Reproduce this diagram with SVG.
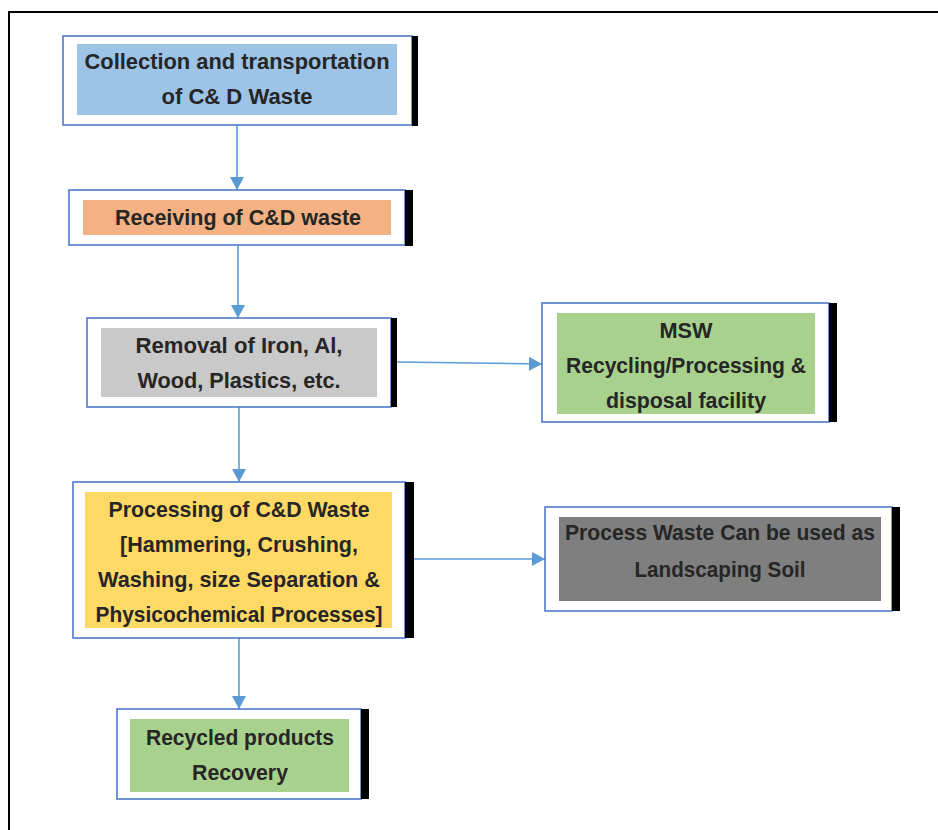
<svg xmlns="http://www.w3.org/2000/svg" width="938" height="830" viewBox="0 0 938 830">
<style>
.outer{fill:#ffffff;stroke:#4472C4;stroke-width:1.5}
.bar{fill:#000000}
.t{font-family:"Liberation Sans",Arial,sans-serif;font-weight:bold;font-size:22px;fill:#262626;text-anchor:middle}
.conn{stroke:#5B9BD5;stroke-width:1.6;fill:none;marker-end:url(#ah)}
</style>
<defs>
<marker id="ah" markerUnits="userSpaceOnUse" markerWidth="14" markerHeight="14" refX="13" refY="7" orient="auto">
<path d="M0,0 L13,7 L0,14 z" fill="#5B9BD5"/>
</marker>
</defs>
<rect x="0" y="0" width="938" height="830" fill="#ffffff"/>
<path d="M9,830 L9,12 L938,12" fill="none" stroke="#000" stroke-width="2"/>

<g id="connectors">
<line class="conn" x1="237" y1="125" x2="237" y2="190"/>
<line class="conn" x1="238" y1="246" x2="238" y2="318"/>
<line class="conn" x1="397" y1="362" x2="542" y2="364"/>
<line class="conn" x1="414" y1="559" x2="545" y2="559"/>
<line class="conn" x1="239" y1="407" x2="239" y2="482"/>
<line class="conn" x1="239" y1="638" x2="239" y2="709"/>
</g>

<g id="n1">
<rect class="outer" x="63" y="36" width="349" height="89"/>
<rect class="bar" x="412" y="36" width="6" height="90"/>
<rect x="77" y="44" width="320" height="71" fill="#9DC3E6"/>
<text class="t" x="237" y="69" textLength="305" lengthAdjust="spacingAndGlyphs">Collection and transportation</text>
<text class="t" x="237" y="104" textLength="151" lengthAdjust="spacingAndGlyphs">of C&amp; D Waste</text>
</g>

<g id="n2">
<rect class="outer" x="69" y="190" width="336" height="55"/>
<rect class="bar" x="405" y="190" width="8" height="56"/>
<rect x="83" y="200" width="308" height="35" fill="#F4B183"/>
<text class="t" x="238" y="225" textLength="246" lengthAdjust="spacingAndGlyphs">Receiving of C&amp;D waste</text>
</g>

<g id="n3">
<rect class="outer" x="87" y="318" width="304" height="89"/>
<rect class="bar" x="391" y="318" width="6" height="89"/>
<rect x="101" y="328" width="276" height="69" fill="#C9C9C9"/>
<text class="t" x="239" y="353" textLength="207" lengthAdjust="spacingAndGlyphs">Removal of Iron, Al,</text>
<text class="t" x="239" y="388" textLength="203" lengthAdjust="spacingAndGlyphs">Wood, Plastics, etc.</text>
</g>

<g id="n4">
<rect class="outer" x="542" y="303" width="287" height="119"/>
<rect class="bar" x="829" y="303" width="8" height="119"/>
<rect x="557" y="313" width="258" height="101" fill="#A9D18E"/>
<text class="t" x="686" y="338" textLength="53" lengthAdjust="spacingAndGlyphs">MSW</text>
<text class="t" x="686" y="373" textLength="240" lengthAdjust="spacingAndGlyphs">Recycling/Processing &amp;</text>
<text class="t" x="686" y="408" textLength="160" lengthAdjust="spacingAndGlyphs">disposal facility</text>
</g>

<g id="n5">
<rect class="outer" x="73" y="482" width="332" height="156"/>
<rect class="bar" x="405" y="482" width="9" height="156"/>
<rect x="85" y="492" width="307" height="136" fill="#FFD966"/>
<text class="t" x="239" y="517" textLength="261" lengthAdjust="spacingAndGlyphs">Processing of C&amp;D Waste</text>
<text class="t" x="239" y="552" textLength="238" lengthAdjust="spacingAndGlyphs">[Hammering, Crushing,</text>
<text class="t" x="239" y="587" textLength="282" lengthAdjust="spacingAndGlyphs">Washing, size Separation &amp;</text>
<text class="t" x="239" y="622" textLength="287" lengthAdjust="spacingAndGlyphs">Physicochemical Processes]</text>
</g>

<g id="n6">
<rect class="outer" x="545" y="507" width="347" height="104"/>
<rect class="bar" x="892" y="507" width="8" height="104"/>
<rect x="559" y="517" width="322" height="84" fill="#7F7F7F"/>
<text class="t" x="720" y="540" textLength="310" lengthAdjust="spacingAndGlyphs">Process Waste Can be used as</text>
<text class="t" x="720" y="577" textLength="171" lengthAdjust="spacingAndGlyphs">Landscaping Soil</text>
</g>

<g id="n7">
<rect class="outer" x="117" y="709" width="244" height="90"/>
<rect class="bar" x="361" y="709" width="8" height="90"/>
<rect x="130" y="719" width="219" height="73" fill="#A9D18E"/>
<text class="t" x="240" y="745" textLength="188" lengthAdjust="spacingAndGlyphs">Recycled products</text>
<text class="t" x="240" y="780" textLength="96" lengthAdjust="spacingAndGlyphs">Recovery</text>
</g>
</svg>
